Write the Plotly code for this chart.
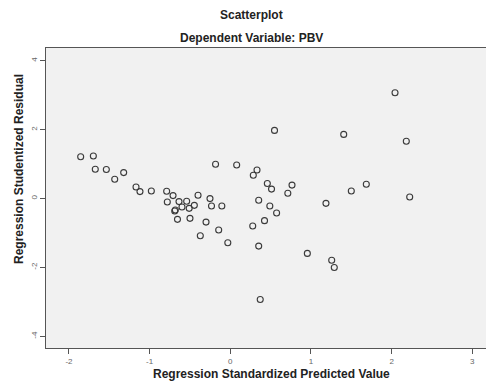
import plotly.graph_objects as go

# Regression standardized predicted value (x) and studentized residual (y)
pred = [-1.855, -1.698, -1.674, -1.537, -1.433, -1.322, -1.169, -1.120, -0.979, -0.789,
        -0.710, -0.781, -0.636, -0.541, -0.400, -0.252, -0.183, 0.079, 0.331, 0.285,
        0.459, 0.511, 0.352, 0.490, 0.574, 0.424, 0.278, 0.352, 0.371, -0.599,
        -0.682, -0.689, -0.510, -0.446, -0.233, -0.105, -0.655, -0.500, -0.301, -0.144,
        -0.372, -0.031, 0.548, 2.042, 1.406, 2.182, 0.765, 0.713, 1.186, 1.500,
        1.686, 2.224, 0.955, 1.257, 1.289]
resid = [1.213, 1.236, 0.849, 0.841, 0.559, 0.753, 0.335, 0.201, 0.218, 0.209,
         0.084, -0.102, -0.090, -0.081, 0.093, -0.003, 0.995, 0.975, 0.829, 0.675,
         0.436, 0.273, -0.052, -0.218, -0.422, -0.643, -0.797, -1.382, -2.932, -0.247,
         -0.335, -0.361, -0.285, -0.198, -0.218, -0.218, -0.605, -0.576, -0.684, -0.916,
         -1.079, -1.283, 1.978, 3.069, 1.862, 1.664, 0.390, 0.151, -0.140, 0.218,
         0.413, 0.044, -1.594, -1.792, -2.001]

x_ticks = [-2, -1, 0, 1, 2, 3]
y_ticks = [-4, -2, 0, 2, 4]

fig = go.Figure()
fig.add_trace(go.Scatter(
    x=pred, y=resid, mode="markers",
    marker=dict(symbol="circle-open", size=6, color="#3a3a3a", line=dict(width=1.1)),
    hoverinfo="x+y", showlegend=False,
))

font = "Liberation Sans, Arial, sans-serif"
ann = dict(xref="paper", yref="paper", showarrow=False, xanchor="center", yanchor="middle")
fig.update_layout(
    width=486, height=387,
    margin=dict(l=46, r=0, t=48, b=39, autoexpand=False),
    paper_bgcolor="white", plot_bgcolor="#f1f1f1",
    font=dict(family=font),
    xaxis=dict(range=[-2.285, 3.17], tickvals=x_ticks, ticktext=[str(v) for v in x_ticks],
               automargin=False,
               showgrid=False, zeroline=False, showline=True, mirror=True,
               linecolor="#555", linewidth=1, ticks="outside", ticklen=5,
               tickcolor="#555", tickfont=dict(size=8, color="#666")),
    yaxis=dict(range=[-4.34, 4.37], tickvals=y_ticks, ticktext=[str(v) for v in y_ticks],
               automargin=False,
               showgrid=False, zeroline=False, showline=True, mirror=False,
               linecolor="#555", linewidth=1, ticks="outside", ticklen=5,
               tickcolor="#555", tickangle=-90, tickfont=dict(size=8, color="#666")),
    annotations=[
        dict(text="<b>Scatterplot</b>", x=(251 - 46) / 440, y=(348 - 15) / 300,
             font=dict(size=12, color="#222"), **ann),
        dict(text="<b>Dependent Variable: PBV</b>", x=(251 - 46) / 440, y=(348 - 38) / 300,
             font=dict(size=12, color="#222"), **ann),
        dict(text="<b>Regression Standardized Predicted Value</b>",
             x=(271 - 46) / 440, y=(348 - 374) / 300,
             font=dict(size=12, color="#222"), **ann),
        dict(text="<b>Regression Studentized Residual</b>",
             x=(19 - 46) / 440, y=(348 - 169) / 300, textangle=-90,
             font=dict(size=12, color="#222"), **ann),
    ],
)

fig.write_html("out.html", config={"displayModeBar": False},
               post_script="document.body.style.margin='0';document.body.style.overflow='hidden';")
